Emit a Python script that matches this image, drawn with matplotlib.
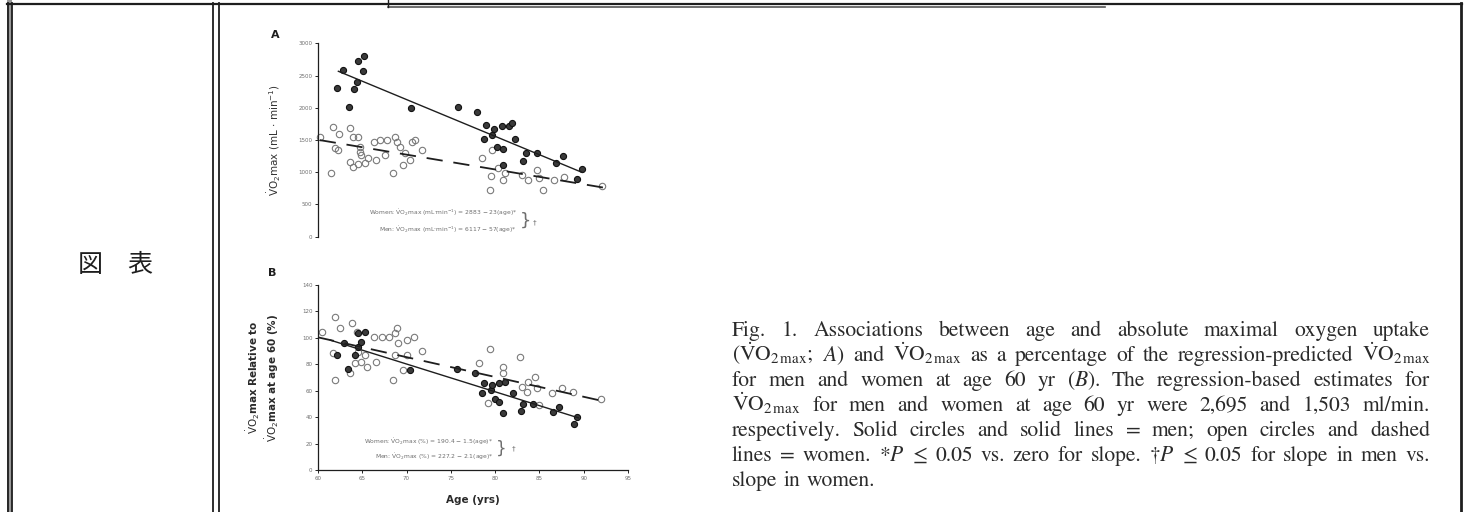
import numpy as np
import matplotlib
matplotlib.use('Agg')
import matplotlib.pyplot as plt

# ---- values ----
# Panel A: absolute VO2max (mL/min)
men_age_a = [62.1, 62.8, 63.5, 64.1, 64.4, 64.5, 65.1, 65.2, 70.5, 75.8, 78.0, 78.7, 79.0, 79.6, 79.9,
             80.2, 80.8, 80.9, 80.9, 81.6, 81.9, 82.2, 83.1, 83.5, 84.7, 86.9, 87.7, 89.2, 89.8]
men_vo2_a = [2305, 2589, 2010, 2289, 2398, 2718, 2563, 2806, 1994, 2019, 1941, 1513, 1735, 1579, 1668,
             1398, 1719, 1357, 1113, 1719, 1770, 1513, 1176, 1295, 1295, 1140, 1253, 891, 1051]
women_age_a = [60.2, 61.5, 61.7, 61.9, 62.3, 62.4, 63.6, 63.6, 64.0, 64.0, 64.5, 64.5, 64.7, 64.7, 64.9, 65.3,
               65.7, 66.3, 66.6, 67.0, 67.6, 67.8, 68.5, 68.7, 68.9, 69.3, 69.6, 69.8, 70.4, 70.6, 71.0, 71.7,
               78.5, 79.4, 79.5, 79.6, 80.3, 80.9, 81.1, 83.0, 83.7, 84.7, 85.0, 85.4, 86.7, 87.8, 92.1]
women_vo2_a = [1553, 985, 1708, 1373, 1346, 1595, 1683, 1165, 1553, 1087, 1553, 1129, 1398, 1320, 1269, 1140,
               1218, 1475, 1191, 1502, 1269, 1502, 994, 1544, 1475, 1398, 1113, 1295, 1191, 1475, 1502, 1346,
               1218, 725, 943, 1346, 1062, 881, 985, 958, 881, 1036, 907, 725, 881, 922, 787]

# Panel B: percent of predicted VO2max at age 60
men_age_b = [62.2, 62.9, 63.4, 64.2, 64.5, 64.5, 64.9, 65.3, 70.4, 75.7, 77.7, 78.5, 78.7, 79.5,
             79.6, 80.0, 80.4, 80.4, 80.9, 81.1, 82.0, 82.9, 83.2, 84.3, 86.5, 87.2, 88.9, 89.2]
men_pct_b = [87.1, 96.4, 76.2, 87.1, 103.5, 93.3, 97.1, 104.7, 75.7, 76.5, 73.4, 58.0, 66.1, 60.6,
             64.3, 53.5, 66.1, 51.7, 42.9, 66.8, 58.0, 44.9, 50.0, 50.0, 44.1, 47.9, 34.6, 40.3]
women_age_b = [60.4, 61.7, 61.9, 61.9, 62.5, 63.6, 63.8, 64.2, 64.4, 64.5, 64.9, 65.3, 65.5, 66.3, 66.6,
               67.2, 68.0, 68.5, 68.7, 68.7, 68.9, 69.0, 69.6, 70.0, 70.0, 70.8, 71.7, 78.2, 79.2, 79.4,
               80.9, 80.9, 82.8, 83.0, 83.6, 83.7, 84.5, 84.7, 85.0, 86.4, 87.5, 88.8, 91.9]
women_pct_b = [104.7, 88.3, 116.0, 68.1, 107.3, 73.2, 111.0, 80.8, 104.7, 89.6, 82.0, 87.1, 78.2, 100.9, 82.0,
               100.9, 100.9, 68.1, 103.5, 87.1, 107.3, 95.9, 75.7, 98.4, 87.1, 100.9, 90.3, 81.2, 50.5, 91.4,
               78.2, 73.2, 85.3, 63.1, 59.3, 66.8, 70.2, 61.8, 49.2, 58.0, 61.8, 59.3, 53.5]

# regression lines printed on the panels: value = intercept - slope * age (with age span drawn)
fit_a = {'men': (6117, 57, 62.3, 89.8), 'women': (2883, 23, 60.2, 92.6)}
fit_b = {'men': (227.2, 2.1, 61.4, 89.4), 'women': (190.4, 1.5, 60.0, 91.9)}

age_ticks = [60, 65, 70, 75, 80, 85, 90, 95]
ticks_a = [0, 500, 1000, 1500, 2000, 2500, 3000]
ticks_b = [0, 20, 40, 60, 80, 100, 120, 140]

INK = '#1e1e1e'
GREY = '#6e6e6e'

W, H = 1466, 512
fig = plt.figure(figsize=(W / 100, H / 100), dpi=100)
fig.patch.set_facecolor('white')

# page layer in pixel units (table borders, cell text, caption)
bg = fig.add_axes([0, 0, 1, 1])
bg.set_xlim(0, W)
bg.set_ylim(H, 0)
bg.axis('off')

# table rules (scanned double lines)
bg.fill_between([7, 12], 0, H, color='#9a9a9a', lw=0)
for x in (7.5, 11.5, 213, 218.5):
    bg.plot([x, x], [3, H], color=INK, lw=1.3)
bg.plot([1461, 1461], [3, H], color=INK, lw=2.0)
bg.plot([7, 1462], [4, 4], color=INK, lw=1.6)
bg.plot([388, 1105], [7, 7], color='#555555', lw=1.2)
bg.plot([388, 388], [0, 7], color=INK, lw=1.0)

bg.text(115, 265, '図\u3000表', fontsize=18, family=['Noto Sans CJK JP', 'DejaVu Sans'],
        ha='center', va='center', color=INK)


def style_axis(ax):
    ax.set_facecolor('none')
    for s in ('top', 'right'):
        ax.spines[s].set_visible(False)
    ax.tick_params(length=2, width=0.6, labelsize=4, labelcolor=GREY, pad=2)
    for s in ax.spines.values():
        s.set_linewidth(0.9)
        s.set_color(INK)


def draw_points(ax, ma, mv, wa, wv):
    ax.plot(wa, wv, 'o', ms=4.6, mfc='none', mec='#7a7a7a', mew=0.8, clip_on=False)
    ax.plot(ma, mv, 'o', ms=4.4, mfc='#3a3a3a', mec='#111111', mew=0.8, clip_on=False)


def draw_fit(ax, fit):
    b0, b1, lo, hi = fit['men']
    xs = np.array([lo, hi])
    ax.plot(xs, b0 - b1 * xs, color=INK, lw=1.0)
    b0, b1, lo, hi = fit['women']
    xs = np.array([lo, hi])
    ax.plot(xs, b0 - b1 * xs, color=INK, lw=1.3, dashes=(9, 6), clip_on=False)


# ---- panel A ----
axA = fig.add_axes([318 / W, (H - 236.7) / H, 310 / W, 193.4 / H])
style_axis(axA)
axA.spines['bottom'].set_visible(False)
axA.set_xlim(60, 95)
axA.set_ylim(0, 3000)
axA.set_xticks([])
axA.set_yticks(ticks_a)
draw_points(axA, men_age_a, men_vo2_a, women_age_a, women_vo2_a)
draw_fit(axA, fit_a)
axA.set_ylabel(r'$\dot{\rm V}{\rm O}_2$max (mL $\cdot$ min$^{-1}$)', fontsize=7.5, color='#333333')
axA.yaxis.set_label_coords(-0.115, 0.5)

bg.text(275, 35, 'A', fontsize=8, fontweight='bold', ha='center', va='center', color=INK)
bg.text(517, 213, r'Women: $\dot{\rm V}{\rm O}_2$max (mL$\cdot$min$^{-1}$) = 2883 $-$ 23(age)*',
        fontsize=4.3, color=GREY, ha='right', va='center')
bg.text(517, 230, r'Men: $\dot{\rm V}{\rm O}_2$max (mL$\cdot$min$^{-1}$) = 6117 $-$ 57(age)*',
        fontsize=4.3, color=GREY, ha='right', va='center')
bg.text(520, 221, '}', fontsize=13, color=GREY, ha='left', va='center')
bg.text(533, 222, '†', fontsize=5, color=GREY, ha='left', va='center')

# ---- panel B ----
axB = fig.add_axes([318 / W, (H - 470) / H, 310 / W, 185 / H])
style_axis(axB)
axB.set_xlim(60, 95)
axB.set_ylim(0, 140)
axB.set_xticks(age_ticks)
axB.set_yticks(ticks_b)
draw_points(axB, men_age_b, men_pct_b, women_age_b, women_pct_b)
draw_fit(axB, fit_b)
axB.set_ylabel(r'$\dot{\rm V}{\rm O}_2$max Relative to' + '\n' + r'$\dot{\rm V}{\rm O}_2$max at age 60 (%)',
               fontsize=7.5, fontweight='bold', color='#2a2a2a', linespacing=1.1)
axB.yaxis.set_label_coords(-0.12, 0.5)
axB.set_xlabel('Age (yrs)', fontsize=7.5, fontweight='bold', color='#2a2a2a')
axB.xaxis.set_label_coords(0.5, -0.135)

bg.text(272, 273, 'B', fontsize=8, fontweight='bold', ha='center', va='center', color=INK)
bg.text(493, 442, r'Women: $\dot{\rm V}{\rm O}_2$max (%) = 190.4 $-$ 1.5(age)*',
        fontsize=4.3, color=GREY, ha='right', va='center')
bg.text(493, 457, r'Men: $\dot{\rm V}{\rm O}_2$max (%) = 227.2 $-$ 2.1(age)*',
        fontsize=4.3, color=GREY, ha='right', va='center')
bg.text(496, 449, '}', fontsize=12, color=GREY, ha='left', va='center')
bg.text(512, 448, '†', fontsize=5, color=GREY, ha='left', va='center')

# ---- justified caption ----
VO = r'$\dot{\mathrm{V}}\mathrm{O}_{2\,\mathrm{max}}$'
caption = [
    'Fig. 1. Associations between age and absolute maximal oxygen uptake',
    '(' + VO + '; $A$) and ' + VO + ' as a percentage of the regression-predicted ' + VO,
    'for men and women at age 60 yr ($B$). The regression-based estimates for',
    VO + ' for men and women at age 60 yr were 2,695 and 1,503 ml/min.',
    'respectively. Solid circles and solid lines = men; open circles and dashed',
    'lines = women. *$P$ ≤ 0.05 vs. zero for slope. †$P$ ≤ 0.05 for slope in men vs.',
    'slope in women.',
]
cap_left, cap_right = 732, 1430
cap_top, cap_step = 336, 25
renderer = fig.canvas.get_renderer()
for i, line in enumerate(caption):
    y = cap_top + i * cap_step
    words = line.split(' ')
    texts = [bg.text(0, y, w, fontsize=15.5, family='STIXGeneral', math_fontfamily='stix',
                     color='#2a2a2a', ha='left', va='baseline') for w in words]
    widths = [t.get_window_extent(renderer).width for t in texts]
    if i < len(caption) - 1:
        gap = max(3, (cap_right - cap_left - sum(widths)) / (len(words) - 1))
    else:
        gap = 6
    x = cap_left
    for t, w in zip(texts, widths):
        t.set_x(x)
        x += w + gap

fig.savefig('out.png', dpi=100, facecolor='white')
